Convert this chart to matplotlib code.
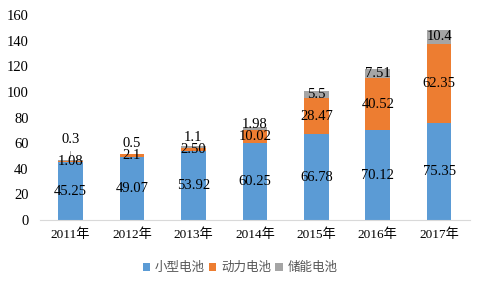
import matplotlib.pyplot as plt
import numpy as np

years = ["2011年", "2012年", "2013年", "2014年", "2015年", "2016年", "2017年"]
small = [45.25, 49.07, 53.92, 60.25, 66.78, 70.12, 75.35]
power = [1.08, 2.1, 2.50, 10.02, 28.47, 40.52, 62.35]
storage = [0.3, 0.5, 1.1, 1.98, 5.5, 7.51, 10.4]
small_lbl = ["45.25", "49.07", "53.92", "60.25", "66.78", "70.12", "75.35"]
power_lbl = ["1.08", "2.1", "2.50", "10.02", "28.47", "40.52", "62.35"]
storage_lbl = ["0.3", "0.5", "1.1", "1.98", "5.5", "7.51", "10.4"]
series_names = ["小型电池", "动力电池", "储能电池"]

fonts = ["Liberation Serif", "Noto Sans CJK SC"]
plt.rcParams["font.family"] = fonts

colors = ["#5B9BD5", "#ED7D31", "#A5A5A5"]
x = np.arange(len(years))
w = 0.4

fig = plt.figure(figsize=(4.8, 2.88), dpi=100)
ax = fig.add_axes([0.083, 0.236, 0.896, 0.712])

b1 = ax.bar(x, small, w, color=colors[0], label=series_names[0])
b2 = ax.bar(x, power, w, bottom=small, color=colors[1], label=series_names[1])
base3 = np.array(small) + np.array(power)
b3 = ax.bar(x, storage, w, bottom=base3, color=colors[2], label=series_names[2])

fs = 10.5
for i in range(len(years)):
    ax.text(x[i], small[i] / 2, small_lbl[i], ha="center", va="center", fontsize=fs)
    ax.text(x[i], small[i] + power[i] / 2, power_lbl[i], ha="center", va="center", fontsize=fs)
# small storage values sit above their bars
lift = [16, 8.5, 7.5, 3.5, 0, 0, 0]
for i in range(len(years)):
    y = base3[i] + storage[i] / 2 + lift[i]
    ax.text(x[i], y, storage_lbl[i], ha="center", va="center", fontsize=fs)
# leader line for the 2011 label
ax.plot([x[0] - 0.01, x[0] - 0.01], [base3[0] + 2, 54], color="#999999", lw=0.6)

ax.set_xlim(-0.5, len(years) - 0.5)
ax.set_ylim(0, 160)
ax.set_yticks(range(0, 161, 20))
ax.set_xticks(x)
ax.set_xticklabels(years, fontsize=9.5)
ax.tick_params(axis="y", labelsize=10.5, length=0, pad=8)
ax.tick_params(axis="x", length=0, pad=6)
for s in ["top", "right", "left"]:
    ax.spines[s].set_visible(False)
ax.spines["bottom"].set_color("#D9D9D9")

leg = fig.legend(handles=[b1, b2, b3], loc="center", bbox_to_anchor=(0.5, 0.07), ncol=3,
                 frameon=False, handlelength=0.6, handleheight=0.6,
                 handletextpad=0.4, columnspacing=0.3,
                 prop={"family": "Noto Sans CJK SC", "size": 9})
for t in leg.get_texts():
    t.set_color("#555555")

fig.savefig("out.png", dpi=100)
